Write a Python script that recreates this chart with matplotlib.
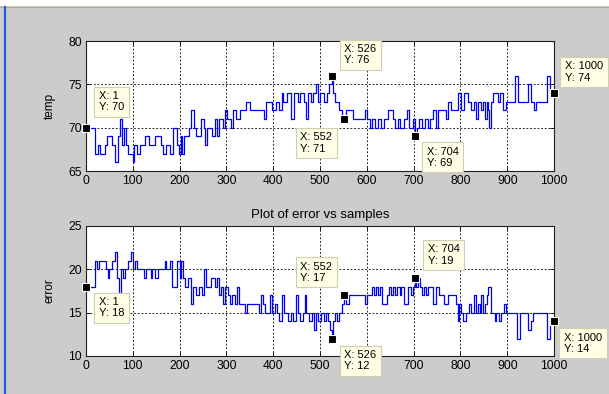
import matplotlib.pyplot as plt
from matplotlib.patches import Rectangle
from matplotlib.lines import Line2D

plt.rcParams['font.family'] = ['Liberation Sans', 'DejaVu Sans']

# ---- temp: sample where a new level starts, and the level ----
temp_start = [1, 20, 25, 30, 40, 45, 55, 62, 68, 72, 76, 82, 85, 90, 100, 102, 108, 115,
              125, 135, 148, 160, 165, 170, 180, 185, 195, 198, 202, 205, 210, 220, 225,
              230, 235, 245, 252, 255, 258, 270, 275, 280, 285, 292, 298, 302, 310, 315,
              320, 330, 342, 350, 380, 385, 398, 405, 412, 418, 422, 430, 438, 445, 452,
              458, 465, 471, 474, 480, 486, 492, 496, 500, 508, 515, 520, 525, 528, 532,
              540, 548, 556, 570, 596, 600, 607, 612, 618, 624, 630, 636, 646, 655, 660,
              666, 672, 680, 686, 690, 698, 704, 707, 712, 718, 724, 730, 735, 741, 748,
              752, 769, 773, 780, 794, 801, 808, 816, 822, 828, 833, 838, 843, 848, 852,
              856, 860, 862, 866, 869, 880, 884, 891, 898, 916, 923, 944, 951, 958, 962,
              984, 991]
temp_level = [70, 67, 68, 67, 68, 69, 68, 66, 69, 71, 68, 70, 68, 67, 66, 68, 67, 68,
              69, 68, 69, 68, 67, 68, 67, 70, 68, 67, 69, 67, 69, 70, 72,
              70, 69, 71, 70, 68, 70, 69, 71, 69, 71, 70, 72, 71, 70, 72,
              71, 72, 73, 72, 71, 73, 72, 73, 72, 74, 73, 74, 71, 74, 73,
              74, 73, 71, 74, 73, 74, 75, 73, 74, 73, 74, 75, 76, 74, 73,
              72, 71, 72, 71, 72, 71, 70, 71, 70, 71, 70, 71, 72, 71, 70,
              71, 70, 71, 72, 70, 71, 69, 70, 71, 70, 71, 70, 71, 72, 70,
              72, 71, 73, 72, 74, 72, 74, 73, 72, 73, 71, 73, 72, 73, 71,
              73, 72, 70, 73, 74, 73, 74, 72, 73, 76, 73, 75, 73, 72, 73,
              76, 74]

# ---- error ----
err_start = [1, 20, 24, 27, 42, 46, 50, 55, 62, 66, 70, 74, 79, 83, 90, 96, 100, 104,
             108, 124, 128, 138, 142, 148, 153, 168, 172, 180, 184, 194, 200, 203, 207,
             212, 218, 224, 229, 234, 242, 248, 253, 256, 268, 276, 280, 284, 289, 293,
             298, 303, 308, 313, 318, 322, 327, 340, 345, 370, 374, 378, 383, 394, 398,
             403, 408, 413, 419, 423, 432, 437, 442, 448, 453, 458, 463, 467, 471, 476,
             482, 487, 491, 496, 502, 508, 513, 518, 522, 525, 528, 532, 537, 541, 546,
             552, 556, 561, 596, 600, 611, 615, 619, 624, 628, 632, 643, 648, 652, 656,
             661, 665, 670, 674, 680, 688, 694, 698, 702, 706, 710, 713, 718, 722, 727,
             731, 741, 748, 755, 766, 773, 791, 794, 797, 801, 805, 812, 818, 823, 829,
             833, 837, 841, 845, 849, 853, 857, 859, 866, 873, 877, 882, 887, 894, 898,
             921, 927, 945, 950, 956, 984, 991]
err_level = [18, 21, 20, 21, 20, 19, 20, 21, 22, 19, 17, 20, 19, 20, 21, 22, 20, 21,
             20, 19, 20, 19, 20, 19, 20, 21, 20, 21, 18, 21, 19, 21, 19,
             18, 19, 16, 18, 17, 18, 17, 20, 18, 19, 18, 19, 17, 18, 16,
             18, 17, 16, 17, 16, 18, 16, 15, 16, 15, 17, 16, 15, 17, 15,
             16, 15, 14, 17, 15, 14, 15, 14, 17, 15, 14, 15, 17, 15, 14,
             15, 13, 15, 14, 15, 14, 15, 14, 13, 12, 14, 15, 14, 15, 16,
             17, 16, 17, 16, 17, 18, 17, 18, 17, 18, 16, 17, 18, 17, 18,
             17, 18, 17, 18, 16, 18, 17, 18, 19, 18, 19, 18, 17, 18, 17,
             18, 16, 18, 17, 16, 17, 16, 14, 16, 15, 14, 15, 16, 15, 17,
             15, 16, 15, 17, 15, 16, 17, 18, 15, 14, 15, 14, 15, 16, 15,
             12, 15, 13, 14, 15, 12, 14]

# data tips: sample, value, box offset in pixels (dx, dy)
temp_tips = [(1, 70, 25, 26), (526, 76, 28, 21), (552, 71, -28, -24),
             (704, 69, 27, -21), (1000, 74, 30, 21)]
err_tips = [(1, 18, 25, -21), (552, 17, -28, 23), (526, 12, 28, -22),
            (704, 19, 28, 23), (1000, 14, 29, -22)]

fig = plt.figure(figsize=(6.09, 3.94), dpi=100, facecolor='#cccccc')
W, H = 609.0, 394.0

# white strip of the page above the window, and the window's blue left edge
fig.patches.append(Rectangle((0, 1 - 6 / H), 1, 6 / H, transform=fig.transFigure,
                             fc='white', ec='none'))
fig.lines.append(Line2D([0, 1], [1 - 6.5 / H] * 2, transform=fig.transFigure,
                        color='#b0a890', lw=0.8))
fig.lines.append(Line2D([5 / W] * 2, [0, 1 - 7 / H], transform=fig.transFigure,
                        color='#1a5fe0', lw=1.6))


def make_axes(top_px, xs, ys, ylim, yticks, ylabel, tips):
    ax = fig.add_axes([86 / W, (H - top_px - 130) / H, 468 / W, 130 / H])
    ax.set_facecolor('white')
    ax.step(xs + [1000], ys + [ys[-1]], where='post', color='#0000ff', lw=0.9)
    ax.set_xlim(0, 1000)
    ax.set_ylim(*ylim)
    ax.set_xticks(range(0, 1001, 100))
    ax.set_yticks(yticks)
    ax.grid(True, color='black', linestyle=(0, (2.2, 2.2)), lw=0.6)
    ax.tick_params(direction='in', length=3, top=True, right=True, labelsize=8.7,
                   pad=3, width=0.6)
    for s in ax.spines.values():
        s.set_linewidth(0.8)
        s.set_color('#202020')
    ax.set_ylabel(ylabel, fontsize=8.5, labelpad=9)
    for sx, sy, dx, dy in tips:
        ax.plot([sx], [sy], marker='s', ms=6, color='black', mec='#fffff0',
                mew=0.8, clip_on=False, zorder=5)
        ax.annotate('X: %d\nY: %d' % (sx, sy), (sx, sy), xytext=(dx, dy),
                    textcoords='offset pixels', ha='center', va='center',
                    multialignment='left', fontsize=8, linespacing=1.15,
                    bbox=dict(boxstyle='square,pad=0.4', fc='#ffffe6',
                              ec='#d0ceb0', lw=0.8),
                    zorder=6, annotation_clip=False)
    return ax


ax1 = make_axes(41, temp_start, temp_level, (65, 80), [65, 70, 75, 80], 'temp', temp_tips)
ax2 = make_axes(226, err_start, err_level, (10, 25), [10, 15, 20, 25], 'error', err_tips)
ax2.set_title('Plot of error vs samples', fontsize=9.5, pad=6)

plt.savefig('out.png', dpi=100, facecolor=fig.get_facecolor())
